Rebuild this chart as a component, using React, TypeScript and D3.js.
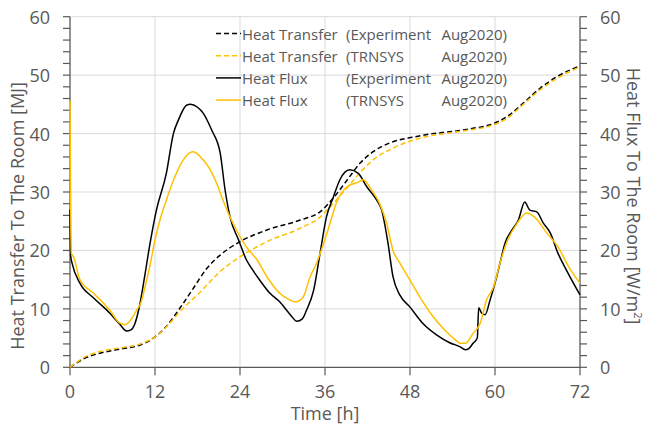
import React from "react";
import * as d3 from "d3";

type Pt = [number, number];

// time [h], value
const expFlux: Pt[] = [
  [0, 27], [0.1, 19], [0.3, 17.8], [1.4, 14.4], [3.3, 11.9], [5.6, 9.3], [7.0, 7.4], [8.0, 6.2],
  [8.6, 6.4], [9.2, 7.6], [9.9, 11], [10.6, 16], [11.3, 21.2], [12.2, 26.9], [13.6, 33.2],
  [14.6, 40], [15.3, 42.3], [16.5, 44.9], [17.0, 45.0], [18.0, 44.5], [18.8, 43.5], [20, 40.6],
  [21.2, 36.7], [21.9, 30.3], [22.6, 25.7], [23.8, 21.8], [24.9, 18.4], [25.6, 17], [26.8, 14.9],
  [28.2, 12.7], [29.6, 11.2], [31.1, 9], [32, 7.9], [32.8, 8.3], [33.4, 9.8], [34.4, 13.2],
  [35.3, 19.5], [36.2, 25.7], [37.2, 29.2], [38.1, 32.1], [39.5, 33.8], [40.7, 33.2], [41.9, 30.9],
  [43.3, 28.6], [44, 26.9], [44.9, 21.2], [45.6, 15.5], [46.6, 12.3], [48, 10.3], [49.9, 7.4],
  [51.8, 5.5], [53.6, 4.2], [55.1, 3.5], [55.8, 3.0], [56.3, 3.2], [56.9, 4.1], [57.5, 5],
  [57.7, 10.2], [58.1, 9.3], [58.6, 9], [59.3, 11.5], [60, 14.4], [60.7, 17.8], [61.4, 21.2],
  [62.4, 23.5], [63.3, 25.2], [64.2, 28.3], [64.9, 26.9], [65.9, 26.6], [66.8, 24.7], [67.8, 23],
  [68.9, 19.5], [70.1, 16.6], [72, 12.4],
];

const simFlux: Pt[] = [
  [0, 45.6], [0.08, 30], [0.2, 19.5], [0.5, 18.9], [1.4, 15], [3.3, 12.7], [5.6, 9.8], [7.0, 7.6],
  [7.8, 7.3], [8.7, 8.3], [9.4, 9.8], [10.0, 11], [10.4, 12.8], [11.3, 17.5], [12, 21.8],
  [12.7, 25.2], [13.6, 28.6], [14.8, 32.6], [16, 35.5], [16.9, 36.7], [17.4, 36.9], [18.8, 35.5],
  [19.8, 33.8], [20.7, 31.5], [21.6, 28.6], [22.6, 25.7], [23.5, 23.5], [24.9, 20.6], [26.4, 18.4],
  [27.8, 15.5], [29.2, 13.2], [31.1, 11.5], [31.8, 11.2], [32.9, 12], [33.9, 15.5], [34.8, 17.8],
  [35.8, 21.2], [36.7, 24.6], [37.6, 28.1], [39.1, 30.9], [40.7, 31.7], [41.4, 32.1], [42.6, 30.3],
  [43.8, 27.8], [44.7, 24.6], [45.6, 20], [46.6, 17.8], [48, 14.9], [49.4, 12], [51.3, 8.6],
  [53.2, 6.0], [54.5, 4.6], [55.1, 4.1], [55.8, 4.1], [56.9, 5.8], [57.9, 7.5], [58.8, 11.5],
  [59.8, 13.8], [60.7, 17.8], [61.6, 21.2], [63.1, 24.6], [64.5, 26.4], [65.6, 25.7], [67.3, 23],
  [68.9, 20.6], [70.4, 17.2], [72, 14.4],
];

const expTransfer: Pt[] = [
  [0, 0], [1, 0.8], [2, 1.5], [4.2, 2.4], [7.5, 3.2], [9.9, 3.8], [12, 5.2], [13.6, 7],
  [15.5, 10.1], [17.4, 13.5], [19.3, 16.9], [21.2, 19.2], [24, 21.5], [27.8, 23.5], [32.5, 25.2],
  [35.3, 26.6], [37.2, 29.0], [39.1, 32], [41, 35], [42.8, 36.9], [45.6, 38.6], [48.5, 39.4],
  [51.3, 40], [53.6, 40.3], [56.9, 40.9], [59.3, 41.5], [61.7, 42.9], [64, 45.2], [66.4, 47.8],
  [68.7, 49.7], [72, 51.6],
];

const simTransfer: Pt[] = [
  [0, 0], [1, 0.9], [2, 1.7], [4.2, 2.7], [7.5, 3.4], [9.9, 4.0], [12, 5.2], [13.6, 6.9],
  [15.5, 9.5], [18.4, 12.9], [21.2, 16.4], [24, 18.9], [27.8, 21.5], [32.5, 23.8], [35.3, 25.7],
  [37.2, 28.1], [39.1, 30.7], [41, 33.4], [42.8, 35.5], [45.6, 37.5], [48.5, 38.9], [51.3, 39.7],
  [53.6, 40.1], [56.9, 40.7], [59.3, 41.3], [61.7, 42.6], [64, 45], [66.4, 47.5], [68.7, 49.4],
  [72, 51.4],
];

const xTicks = [0, 12, 24, 36, 48, 60, 72];
const yTicks = [0, 10, 20, 30, 40, 50, 60];
const legendNames = ["Heat Transfer", "Heat Transfer", "Heat Flux", "Heat Flux"];
const legendSources = ["(Experiment", "(TRNSYS", "(Experiment", "(TRNSYS"];

const W = 647;
const H = 430;
const left = 70;
const right = 580;
const top = 16.7;
const bottom = 367.3;

const BLACK = "#000000";
const GOLD = "#FFC000";
const AXIS = "#595959";
const GRID = "#d9d9d9";
const FONT = "'Open Sans', sans-serif";

export default function App() {
  const x = d3.scaleLinear().domain([0, 72]).range([left, right]);
  const y = d3.scaleLinear().domain([0, 60]).range([bottom, top]);
  const line = d3
    .line<Pt>()
    .x((d) => x(d[0]))
    .y((d) => y(d[1]))
    .curve(d3.curveMonotoneX);

  const minor = d3.range(0, 61, 2);

  const series = [
    { data: expTransfer, color: BLACK, dash: "5,3" },
    { data: simTransfer, color: GOLD, dash: "5,3" },
    { data: expFlux, color: BLACK, dash: null },
    { data: simFlux, color: GOLD, dash: null },
  ];

  return (
    <svg
      width={W}
      height={H}
      style={{ position: "absolute", left: 0, top: 0, background: "#fff" }}
      fontFamily={FONT}
    >
      {/* grid */}
      {yTicks.slice(1).map((t) => (
        <line key={"gy" + t} x1={left} x2={right} y1={y(t)} y2={y(t)} stroke={GRID} strokeWidth={1} />
      ))}
      {xTicks.slice(1, -1).map((t) => (
        <line key={"gx" + t} x1={x(t)} x2={x(t)} y1={top} y2={bottom} stroke={GRID} strokeWidth={1} />
      ))}

      {/* axes */}
      <line x1={left} x2={left} y1={top} y2={bottom} stroke={AXIS} strokeWidth={1.3} />
      <line x1={right} x2={right} y1={top} y2={bottom} stroke={AXIS} strokeWidth={1.3} />
      <line x1={left} x2={right} y1={bottom} y2={bottom} stroke={AXIS} strokeWidth={1.3} />
      {minor.map((t) => (
        <g key={"mt" + t}>
          <line x1={left - 7} x2={left} y1={y(t)} y2={y(t)} stroke={AXIS} strokeWidth={1.2} />
          <line x1={right} x2={right + 7} y1={y(t)} y2={y(t)} stroke={AXIS} strokeWidth={1.2} />
        </g>
      ))}
      {xTicks.map((t) => (
        <line key={"xt" + t} x1={x(t)} x2={x(t)} y1={bottom} y2={bottom + 8} stroke={AXIS} strokeWidth={1.2} />
      ))}

      {/* tick labels */}
      {yTicks.map((t) => (
        <g key={"yl" + t} fill={AXIS} fontSize={18}>
          <text x={50} y={y(t)} textAnchor="end" dominantBaseline="central">{t}</text>
          <text x={600} y={y(t)} textAnchor="start" dominantBaseline="central">{t}</text>
        </g>
      ))}
      {xTicks.map((t) => (
        <text key={"xl" + t} x={x(t)} y={398} textAnchor="middle" fill={AXIS} fontSize={18}>{t}</text>
      ))}

      {/* axis titles */}
      <text x={325} y={420} textAnchor="middle" fill={AXIS} fontSize={18}>Time [h]</text>
      <text
        transform={`translate(24,216) rotate(-90)`}
        textAnchor="middle"
        fill={AXIS}
        fontSize={18}
      >
        Heat Transfer To The Room [MJ]
      </text>
      <text
        transform={`translate(627,196) rotate(90)`}
        textAnchor="middle"
        fill={AXIS}
        fontSize={18}
      >
        Heat Flux To The Room [W/m<tspan baselineShift="super" fontSize={11}>2</tspan>]
      </text>

      {/* series */}
      {series.map((s, i) => (
        <path
          key={"s" + i}
          d={line(s.data) ?? ""}
          fill="none"
          stroke={s.color}
          strokeWidth={1.5}
          strokeDasharray={s.dash ?? undefined}
        />
      ))}

      {/* legend */}
      {series.map((s, i) => {
        const ly = 33.5 + i * 22.2;
        return (
          <g key={"lg" + i} fontSize={15} fill={AXIS}>
            <line
              x1={216}
              x2={241}
              y1={ly}
              y2={ly}
              stroke={s.color}
              strokeWidth={1.5}
              strokeDasharray={s.dash ?? undefined}
            />
            <text x={242} y={ly} dominantBaseline="central">{legendNames[i]}</text>
            <text x={346} y={ly} dominantBaseline="central">{legendSources[i]}</text>
            <text x={507} y={ly} textAnchor="end" dominantBaseline="central">Aug2020)</text>
          </g>
        );
      })}
    </svg>
  );
}
